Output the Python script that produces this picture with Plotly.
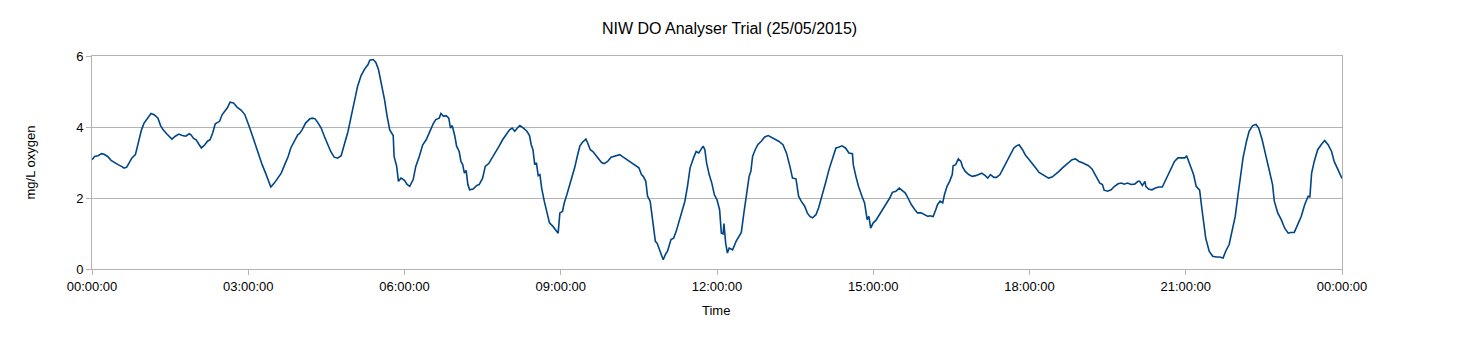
import pandas as pd
import plotly.graph_objects as go

# Minutes after 00:00 on 25/05/2015
minutes = [
    0, 3, 7, 11, 14, 18, 22, 26, 30, 34, 37, 40, 43, 46, 50, 53, 57, 60, 64, 68,
    72, 76, 79, 82, 86, 89, 92, 96, 100, 104, 108, 112, 114, 117, 120, 123, 126, 130, 133, 136,
    139, 142, 147, 150, 154, 156, 159, 163, 167, 172, 176, 178, 181, 185, 189, 193, 196, 200, 203, 206,
    210, 214, 218, 222, 226, 229, 233, 237,
    239, 242, 246, 251, 254, 257, 260, 264, 268, 272, 275, 279, 283, 287, 291, 295, 299, 302, 306, 310,
    314, 318, 320, 324, 327, 330, 333, 337, 340, 343, 347, 348, 351, 353, 356, 360, 363, 366, 370, 373,
    377, 381, 385, 389, 393, 396, 400, 402, 405, 408, 411, 413, 415, 418, 420, 423, 425, 427, 429, 431,
    433, 435, 439, 443, 446, 450, 453, 457, 461, 466, 469, 473, 477,
    481, 484, 487, 491, 493, 497, 501, 504, 506, 508, 510, 512, 514, 516, 518, 521, 524, 527, 531, 534,
    537, 538, 539, 542, 544, 547, 550, 553, 556, 559, 562, 565, 569, 571, 574, 577, 580, 583, 587, 590,
    594, 598, 603, 608, 612, 615, 620, 624, 627, 630, 633, 635, 638, 640, 643, 645, 647, 649, 651, 654,
    656, 658, 661, 663, 667, 670, 673, 677, 680, 683, 686, 689, 693, 696, 699, 702, 704, 706, 708, 711,
    714, 717, 720,
    723, 725, 727, 728, 730, 732, 734, 738, 742, 745, 748, 751, 754, 757, 759, 761, 764, 767, 771, 775,
    779, 782, 786, 791, 796, 800, 804, 807, 811, 814, 817, 821, 824, 827, 830, 834, 837, 841, 845, 849,
    853, 857, 860, 864, 868, 872, 876, 877, 880, 883, 887, 890, 893, 895, 897, 900, 903, 907, 911, 915,
    919, 922, 926, 930, 933, 937, 940, 944, 948, 951, 955, 959, 963,
    965, 969, 972, 974, 977, 980, 982, 985, 988, 991, 992, 995, 998, 1001, 1003, 1006, 1010, 1014, 1018, 1022,
    1025, 1029, 1032, 1035, 1039, 1042, 1046, 1050, 1054, 1058, 1062, 1065, 1068, 1072, 1075, 1079, 1083, 1087, 1091, 1095,
    1098, 1102, 1106, 1110, 1114, 1118, 1122, 1125, 1129, 1133, 1137, 1141, 1145, 1148, 1152, 1155, 1158, 1161, 1164, 1166,
    1170, 1174, 1178, 1182, 1186, 1189, 1193, 1197, 1201, 1205,
    1207, 1210, 1213, 1214, 1217, 1221, 1225, 1229, 1233, 1236, 1239, 1243, 1247, 1251, 1255, 1259, 1261, 1264, 1266, 1269,
    1272, 1276, 1278, 1280, 1283, 1287, 1291, 1295, 1299, 1303, 1306, 1310, 1313, 1317, 1320, 1323, 1326, 1330, 1333, 1337,
    1341, 1344, 1348, 1352, 1356, 1360, 1362, 1366, 1370, 1374, 1378, 1381, 1385, 1389, 1393, 1397, 1401, 1403, 1405, 1408,
    1412, 1416, 1420, 1424, 1428, 1431, 1435, 1439, 1440,
]

# Dissolved oxygen, mg/L
do_values = [
    3.08, 3.17, 3.19, 3.25, 3.23, 3.17, 3.06, 2.99, 2.94, 2.89, 2.84, 2.87, 2.99, 3.13, 3.22, 3.50, 3.92, 4.11, 4.25, 4.38,
    4.34, 4.25, 4.04, 3.92, 3.81, 3.72, 3.66, 3.74, 3.80, 3.76, 3.74, 3.81, 3.78, 3.68, 3.64, 3.52, 3.41, 3.50, 3.60, 3.64,
    3.83, 4.09, 4.16, 4.35, 4.49, 4.54, 4.70, 4.68, 4.56, 4.47, 4.35, 4.19, 4.02, 3.74, 3.43, 3.13, 2.94, 2.70, 2.52, 2.31,
    2.42, 2.56, 2.70, 2.94, 3.17, 3.41, 3.60, 3.78,
    3.81, 3.92, 4.11, 4.23, 4.25, 4.23, 4.13, 3.97, 3.72, 3.50, 3.31, 3.15, 3.12, 3.19, 3.50, 3.88, 4.35, 4.72, 5.15, 5.45,
    5.63, 5.76, 5.88, 5.90, 5.82, 5.62, 5.29, 4.77, 4.30, 3.92, 3.76, 3.17, 2.89, 2.47, 2.56, 2.50, 2.38, 2.33, 2.52, 2.89,
    3.17, 3.50, 3.64, 3.88, 4.09, 4.21, 4.25, 4.38, 4.30, 4.32, 4.25, 3.97, 4.04, 3.74, 3.46, 3.31, 3.03, 2.94, 2.70, 2.78,
    2.38, 2.23, 2.25, 2.35, 2.38, 2.56, 2.89, 2.97, 3.13, 3.31, 3.46, 3.64, 3.78,
    3.92, 3.97, 3.88, 4.00, 4.04, 3.97, 3.88, 3.76, 3.50, 3.36, 2.94, 2.99, 2.63, 2.66, 2.28, 1.91, 1.58, 1.30, 1.20, 1.11,
    1.01, 1.30, 1.58, 1.62, 1.86, 2.09, 2.33, 2.61, 2.85, 3.17, 3.46, 3.57, 3.66, 3.55, 3.36, 3.31, 3.22, 3.13, 3.00, 2.97,
    3.03, 3.15, 3.19, 3.22, 3.15, 3.10, 3.03, 2.94, 2.89, 2.85, 2.66, 2.61, 2.47, 2.05, 1.91, 1.58, 1.11, 0.78, 0.73, 0.54,
    0.40, 0.26, 0.43, 0.50, 0.83, 0.87, 1.06, 1.39, 1.67, 1.91, 2.33, 2.85, 3.13, 3.31, 3.27, 3.41, 3.46, 3.36, 2.99, 2.66,
    2.42, 2.09, 1.95,
    1.67, 1.01, 0.99, 1.28, 0.73, 0.45, 0.59, 0.54, 0.78, 0.92, 1.03, 1.58, 2.14, 2.61, 2.75, 3.17, 3.36, 3.50, 3.60, 3.72,
    3.76, 3.72, 3.66, 3.60, 3.50, 3.27, 2.89, 2.56, 2.54, 2.05, 1.91, 1.77, 1.58, 1.48, 1.44, 1.53, 1.72, 2.05, 2.42, 2.80,
    3.08, 3.41, 3.43, 3.47, 3.41, 3.27, 3.25, 2.94, 2.61, 2.33, 2.05, 1.86, 1.39, 1.48, 1.15, 1.30, 1.37, 1.53, 1.67, 1.81,
    2.00, 2.16, 2.19, 2.28, 2.23, 2.14, 2.00, 1.81, 1.67, 1.58, 1.58, 1.53, 1.48,
    1.50, 1.48, 1.67, 1.81, 1.91, 1.86, 2.09, 2.33, 2.47, 2.66, 2.91, 2.94, 3.10, 3.03, 2.87, 2.75, 2.66, 2.61, 2.63, 2.68,
    2.70, 2.63, 2.56, 2.66, 2.58, 2.58, 2.66, 2.85, 3.03, 3.19, 3.41, 3.47, 3.50, 3.36, 3.22, 3.10, 2.99, 2.85, 2.72, 2.66,
    2.63, 2.56, 2.59, 2.66, 2.75, 2.85, 2.94, 3.00, 3.08, 3.10, 3.03, 2.99, 2.94, 2.91, 2.82, 2.70, 2.56, 2.42, 2.38, 2.22,
    2.19, 2.23, 2.33, 2.40, 2.42, 2.39, 2.42, 2.38, 2.39, 2.47,
    2.47, 2.35, 2.47, 2.33, 2.25, 2.23, 2.28, 2.31, 2.31, 2.47, 2.63, 2.85, 3.03, 3.13, 3.13, 3.13, 3.19, 2.99, 2.89, 2.66,
    2.33, 2.22, 1.81, 1.39, 0.87, 0.50, 0.36, 0.34, 0.34, 0.31, 0.50, 0.69, 1.06, 1.48, 2.05, 2.61, 3.13, 3.60, 3.88, 4.04,
    4.07, 3.97, 3.64, 3.22, 2.80, 2.38, 1.91, 1.58, 1.39, 1.15, 1.01, 1.03, 1.03, 1.25, 1.48, 1.81, 2.05, 2.03, 2.70, 3.03,
    3.36, 3.50, 3.62, 3.50, 3.31, 3.03, 2.80, 2.58, 2.55,
]

title_text = "NIW DO Analyser Trial (25/05/2015)"
x_title = "Time"
y_title = "mg/L oxygen"

start = pd.Timestamp("2015-05-25 00:00:00")
times = start + pd.to_timedelta(minutes, unit="m")

fig = go.Figure()
fig.add_trace(go.Scatter(
    x=times, y=do_values, mode="lines",
    line=dict(color="#004586", width=1.6),
    showlegend=False,
))

grid = "#b3b3b3"
fig.update_layout(
    width=1459, height=337,
    margin=dict(l=92, r=117, t=56, b=68),
    paper_bgcolor="white", plot_bgcolor="white",
    font=dict(family="Liberation Sans, Arial, sans-serif", size=13, color="black"),
    title=dict(text=title_text, x=0.5, xanchor="center", y=1 - 28 / 337, yanchor="middle",
               font=dict(size=16, color="black")),
    xaxis=dict(
        type="date",
        range=[start, start + pd.Timedelta(days=1)],
        tick0=start, dtick=3 * 3600 * 1000, tickformat="%H:%M:%S",
        showgrid=False, showline=True, linecolor=grid, linewidth=1, mirror=True,
        ticks="outside", ticklen=5, tickcolor=grid,
        zeroline=False,
    ),
    yaxis=dict(
        range=[0, 6], dtick=2, tick0=0,
        showgrid=True, gridcolor=grid, gridwidth=1,
        showline=True, linecolor=grid, linewidth=1, mirror=True,
        ticks="outside", ticklen=5, tickcolor=grid,
        zeroline=False,
    ),
    annotations=[
        dict(text=x_title, xref="paper", yref="paper", x=0.4992, y=-41 / 213,
             xanchor="center", yanchor="middle", showarrow=False, font=dict(size=13)),
        dict(text=y_title, xref="paper", yref="paper", x=(30 - 92) / 1250, y=0.5,
             xanchor="center", yanchor="middle", textangle=-90, showarrow=False,
             font=dict(size=13)),
    ],
)

fig.write_html("out.html")
